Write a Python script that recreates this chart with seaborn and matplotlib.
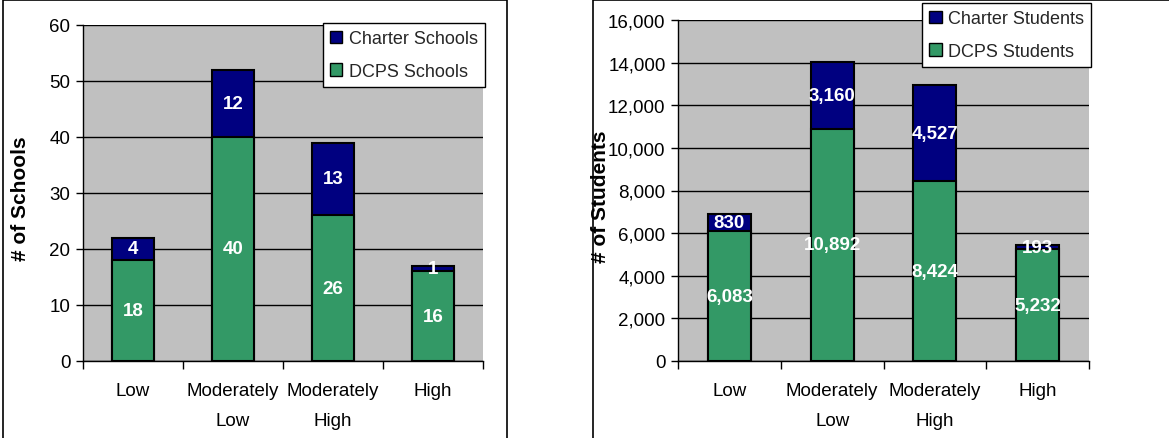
import matplotlib
matplotlib.use("Agg")
import matplotlib.pyplot as plt
import seaborn as sns
import numpy as np
from matplotlib.patches import Rectangle, Patch
from matplotlib.ticker import FuncFormatter, FixedLocator

# Data
categories = ["Low", "Moderately\nLow", "Moderately\nHigh", "High"]
dcps_schools = [18, 40, 26, 16]
charter_schools = [4, 12, 13, 1]
dcps_students = [6083, 10892, 8424, 5232]
charter_students = [830, 3160, 4527, 193]

navy = "#000080"
green = "#339966"
bg = "#C0C0C0"

sns.set_theme(style="white")
plt.rcParams["font.family"] = ["Liberation Sans", "DejaVu Sans"]

fig = plt.figure(figsize=(11.69, 4.39), dpi=100)

# panel frames
fig.patches.append(Rectangle((3 / 1169, -0.1), 504 / 1169, 1.098, transform=fig.transFigure,
                             fill=False, edgecolor="black", linewidth=1.2))
fig.patches.append(Rectangle((593 / 1169, -0.1), 600 / 1169, 1.098, transform=fig.transFigure,
                             fill=False, edgecolor="black", linewidth=1.2))

ax1 = fig.add_axes([83 / 1169, 1 - 362 / 439, 400 / 1169, 336 / 439])
ax2 = fig.add_axes([678 / 1169, 1 - 362 / 439, 411 / 1169, 341 / 439])


def draw_panel(ax, dcps, charter, ymax, step, ylabel, names, fmt, label_x, legend_anchor):
    totals = [d + c for d, c in zip(dcps, charter)]
    ax.set_facecolor(bg)
    ax.set_axisbelow(True)
    ax.yaxis.grid(True, color="black", linewidth=1)
    sns.barplot(x=categories, y=totals, color=navy, width=0.42, edgecolor="black",
                linewidth=1.5, saturation=1, ax=ax)
    sns.barplot(x=categories, y=dcps, color=green, width=0.42, edgecolor="black",
                linewidth=1.5, saturation=1, ax=ax)
    for i, (d, c) in enumerate(zip(dcps, charter)):
        ax.text(i, d / 2, fmt(d), ha="center", va="center", color="white",
                fontsize=13.5, fontweight="bold")
        ax.text(i, d + c / 2, fmt(c), ha="center", va="center", color="white",
                fontsize=13.5, fontweight="bold")
    ax.set_xlim(-0.5, 3.5)
    ax.set_ylim(0, ymax)
    ax.set_yticks(np.arange(0, ymax + 1, step))
    ax.yaxis.set_major_formatter(FuncFormatter(lambda v, p: fmt(int(v))))
    for s in ["top", "right"]:
        ax.spines[s].set_visible(False)
    for s in ["left", "bottom"]:
        ax.spines[s].set_color("black")
        ax.spines[s].set_linewidth(1)
    ax.tick_params(axis="y", which="major", left=True, length=5, width=1, color="black",
                   labelsize=13.5, pad=4, labelcolor="black")
    ax.tick_params(axis="x", which="major", bottom=False, labelsize=13.5, pad=9, labelcolor="black")
    ax.xaxis.set_minor_locator(FixedLocator([-0.5, 0.5, 1.5, 2.5, 3.5]))
    ax.tick_params(axis="x", which="minor", bottom=True, length=6, width=1, color="black")
    for lab in ax.get_xticklabels():
        lab.set_linespacing(2.0)
    ax.set_xlabel("")
    ax.set_ylabel(ylabel, fontsize=15, fontweight="bold", color="black")
    ax.yaxis.set_label_coords(label_x, 0.485)
    handles = [Patch(facecolor=navy, edgecolor="black", label=names[0]),
               Patch(facecolor=green, edgecolor="black", label=names[1])]
    leg = ax.legend(handles=handles, loc="upper right", bbox_to_anchor=legend_anchor,
                    fontsize=13, frameon=True, fancybox=False, borderpad=0.4,
                    handlelength=0.7, handleheight=0.7, handletextpad=0.35,
                    labelspacing=0.85, borderaxespad=0)
    leg.get_frame().set_edgecolor("black")
    leg.get_frame().set_linewidth(1)
    leg.get_frame().set_alpha(1)


draw_panel(ax1, dcps_schools, charter_schools, 60, 10, "# of Schools",
           ["Charter Schools", "DCPS Schools"], lambda v: f"{v}", -0.1325, (1.005, 1.006))
draw_panel(ax2, dcps_students, charter_students, 16000, 2000, "# of Students",
           ["Charter Students", "DCPS Students"], lambda v: f"{v:,}", -0.165, (1.005, 1.05))

fig.savefig("out.png", dpi=100)
